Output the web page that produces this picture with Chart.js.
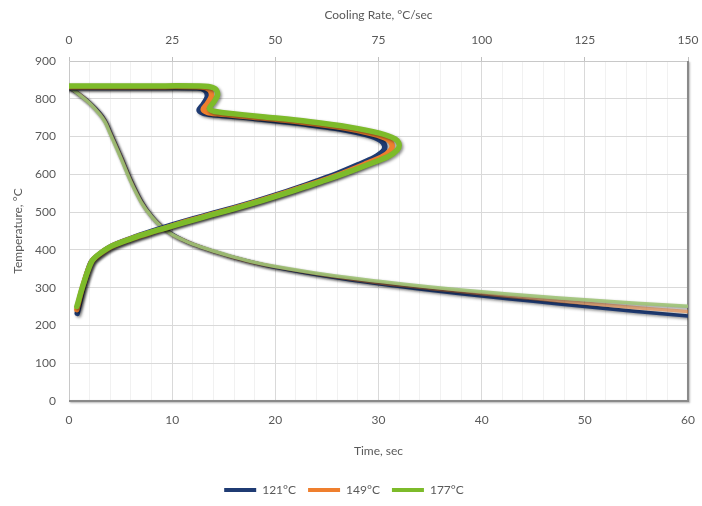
<!DOCTYPE html>
<html>
<head>
<meta charset="utf-8">
<script src="https://cdn.jsdelivr.net/npm/chart.js@4"></script>
<style>
  html, body { margin: 0; padding: 0; background: #ffffff; }
  #wrap { width: 702px; height: 506px; }
</style>
</head>
<body>
<div id="wrap"><canvas id="c" width="702" height="506"></canvas></div>
<script>
// ---- data ----
const seriesLabels = ['121°C', '149°C', '177°C'];
const seriesColors = ['#1f3b73', '#ef7f2e', '#7dbb2a'];

// Temperature vs time (bottom axis)
const timeSec = [0, 1, 2, 3, 3.5, 4, 5, 6, 7, 8, 9, 10, 11, 12, 14, 16, 18, 20, 25, 30, 35, 40, 45, 50, 55, 60];
const temp121Time = [830, 812, 790, 762, 742, 712, 650, 585, 530, 490, 462, 442, 427, 415, 396, 380, 366, 354, 330, 310, 293, 278, 264, 250, 237, 225];
const temp149Time = [831, 812, 789, 760, 740, 710, 648, 583, 528, 489, 461, 441, 427, 415, 396, 380, 366, 355, 332, 313, 298, 284, 271, 259, 247, 237];
const temp177Time = [832, 811, 788, 758, 738, 707, 645, 580, 526, 488, 460, 441, 427, 415, 397, 381, 367, 356, 334, 317, 302, 289, 278, 268, 259, 251];

// Temperature vs cooling rate (top axis), points in time order
const rate121 = [0, 20, 31, 33, 33.5, 32.5, 31.5, 32.5, 35, 45, 55, 65, 72, 75.5, 76.5, 76, 74, 70, 65, 60, 55, 50, 45, 40, 35, 30, 25, 20, 15, 10, 7, 5.3, 3.4, 2];
const tempRate121 = [830, 830, 829, 822, 805, 785, 770, 762, 758, 748, 736, 721, 705, 690, 675, 660, 645, 625, 602, 582, 563, 545, 528, 512, 497, 482, 466, 449, 430, 408, 385, 366, 300, 232];
const rate149 = [0, 20, 32, 34, 34.5, 33.5, 32.5, 33.5, 36, 46, 56.5, 66.5, 73.5, 77.3, 78.3, 77.8, 75.8, 71.5, 66.3, 61.2, 56, 51, 46, 41, 36, 31, 26, 21, 15.5, 10.3, 7.1, 5.4, 3.4, 1.9];
const tempRate149 = [832, 832, 831, 824, 807, 787, 772, 764, 760, 750, 738, 723, 707, 692, 677, 662, 646, 626, 603, 583, 564, 546, 529, 513, 498, 483, 467, 450, 431, 409, 386, 367, 305, 242];
const rate177 = [0, 20, 33, 35.5, 36, 35, 34, 35, 37.5, 47.5, 58, 68, 75.2, 79, 80, 79.5, 77.5, 73, 67.5, 62.3, 57, 52, 47, 42, 37, 32, 26.8, 21.5, 16, 10.5, 7.2, 5.5, 3.5, 1.9];
const tempRate177 = [834, 834, 833, 826, 810, 790, 775, 767, 763, 752, 740, 725, 709, 694, 679, 664, 648, 628, 605, 585, 566, 548, 531, 515, 500, 485, 469, 452, 433, 411, 388, 369, 310, 250];

// axis ticks
const tempTicks = { min: 0, max: 900, step: 100 };
const timeTicks = { min: 0, max: 60, step: 10, minorStep: 2 };
const rateTicks = { min: 0, max: 150, step: 25 };

// ---- build datasets ----
const pts = (xs, ys) => xs.map((x, i) => ({ x: x, y: ys[i] }));
const timeSets = [temp121Time, temp149Time, temp177Time];
const rateXs = [rate121, rate149, rate177];
const rateYs = [tempRate121, tempRate149, tempRate177];
const timeColors = ['rgba(31,59,115,1)', 'rgba(239,127,46,0.55)', 'rgba(160,196,120,0.9)'];

const datasets = [];
for (let i = 0; i < 3; i++) {
  datasets.push({
    label: seriesLabels[i] + ' time',
    data: pts(timeSec, timeSets[i]),
    xAxisID: 'x', yAxisID: 'y',
    borderColor: timeColors[i], backgroundColor: timeColors[i],
    borderWidth: 3.5, pointRadius: 0, showLine: true, tension: 0.35, fill: false,
    order: 6 - i
  });
}
for (let i = 0; i < 3; i++) {
  datasets.push({
    label: seriesLabels[i],
    data: pts(rateXs[i], rateYs[i]),
    xAxisID: 'x2', yAxisID: 'y',
    borderColor: seriesColors[i], backgroundColor: seriesColors[i],
    borderWidth: 5.5, pointRadius: 0, showLine: true, tension: 0.3, fill: false,
    borderJoinStyle: 'round', borderCapStyle: 'round',
    order: 3 - i
  });
}

const FONT = 'Lato, "Open Sans", sans-serif';
const TXT = '#595959';

const shadowPlugin = {
  id: 'shadow',
  beforeDatasetDraw(chart) {
    const ctx = chart.ctx;
    ctx.save();
    ctx.shadowColor = 'rgba(0,0,0,0.45)';
    ctx.shadowBlur = 3;
    ctx.shadowOffsetX = 1.5;
    ctx.shadowOffsetY = 1.5;
  },
  afterDatasetDraw(chart) { chart.ctx.restore(); }
};

const framePlugin = {
  id: 'frame',
  beforeDatasetsDraw(chart) {
    const { ctx, chartArea: a } = chart;
    ctx.save();
    ctx.lineWidth = 1;
    ctx.strokeStyle = '#c8c8c8';
    ctx.beginPath();
    ctx.moveTo(a.left + 0.5, a.bottom); ctx.lineTo(a.left + 0.5, a.top + 0.5); ctx.lineTo(a.right, a.top + 0.5);
    ctx.stroke();
    ctx.shadowColor = 'rgba(0,0,0,0.3)';
    ctx.shadowBlur = 2; ctx.shadowOffsetX = 1; ctx.shadowOffsetY = 1;
    ctx.lineWidth = 2;
    ctx.strokeStyle = '#8a8a8a';
    ctx.beginPath();
    ctx.moveTo(a.left, a.bottom); ctx.lineTo(a.right, a.bottom); ctx.lineTo(a.right, a.top);
    ctx.stroke();
    ctx.restore();
  }
};

const noOverhang = (s) => { s.paddingLeft = 0; s.paddingRight = 0; };

new Chart(document.getElementById('c'), {
  type: 'scatter',
  data: { datasets },
  plugins: [framePlugin, shadowPlugin],
  options: {
    responsive: false,
    animation: false,
    layout: { padding: { left: 0, right: 14, top: 0, bottom: 0 } },
    plugins: {
      tooltip: { enabled: false },
      legend: {
        position: 'bottom',
        labels: {
          filter: (item) => item.datasetIndex >= 3,
          sort: (a, b) => a.datasetIndex - b.datasetIndex,
          generateLabels: (chart) => Chart.defaults.plugins.legend.labels.generateLabels(chart)
            .map((it) => Object.assign(it, { lineWidth: 0 })),
          boxWidth: 32, boxHeight: 4, padding: 12,
          color: TXT, font: { family: FONT, size: 12 }
        }
      }
    },
    scales: {
      x: {
        type: 'linear', position: 'bottom',
        min: timeTicks.min, max: timeTicks.max,
        afterFit: (s) => { s.height = 71; noOverhang(s); },
        border: { display: false },
        grid: {
          drawTicks: false,
          color: (c) => (c.tick && c.tick.value % timeTicks.step === 0) ? '#d9d9d9' : '#f1f1f1'
        },
        ticks: {
          stepSize: timeTicks.minorStep, padding: 12, color: TXT, font: { family: FONT, size: 12 },
          autoSkip: false, maxRotation: 0,
          callback: (v) => (v % timeTicks.step === 0 ? String(v) : '')
        },
        title: { display: true, text: 'Time, sec', color: TXT, font: { family: FONT, size: 12 }, padding: { top: 0, bottom: 14 } }
      },
      x2: {
        type: 'linear', position: 'top',
        min: rateTicks.min, max: rateTicks.max,
        afterFit: (s) => { s.height = 61; noOverhang(s); },
        border: { display: false },
        grid: { drawOnChartArea: false, drawTicks: true, tickLength: 4, color: '#bfbfbf' },
        ticks: { stepSize: rateTicks.step, padding: 10, color: TXT, font: { family: FONT, size: 12 }, maxRotation: 0 },
        title: { display: true, text: 'Cooling Rate, °C/sec', color: TXT, font: { family: FONT, size: 12 }, padding: { top: 8, bottom: 0 } }
      },
      y: {
        type: 'linear', position: 'left',
        min: tempTicks.min, max: tempTicks.max,
        afterFit: (s) => { s.width = 69; },
        border: { display: false },
        grid: { drawTicks: false, color: '#d9d9d9' },
        ticks: { stepSize: tempTicks.step, padding: 13, color: TXT, font: { family: FONT, size: 12 } },
        title: { display: true, text: 'Temperature, °C', color: TXT, font: { family: FONT, size: 12 }, padding: { top: 11, bottom: 0 } }
      }
    }
  }
});
</script>
</body>
</html>
